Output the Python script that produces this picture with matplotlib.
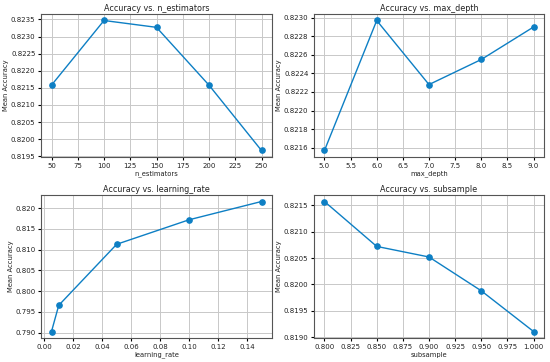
import matplotlib
matplotlib.use("Agg")
import matplotlib.pyplot as plt
from matplotlib.ticker import MultipleLocator, FormatStrFormatter

n_estimators = [50, 100, 150, 200, 250]
acc_n_estimators = [0.82158, 0.82347, 0.82327, 0.82158, 0.81967]

max_depth = [5, 6, 7, 8, 9]
acc_max_depth = [0.82157, 0.82297, 0.82228, 0.82255, 0.82290]

learning_rate = [0.005, 0.01, 0.05, 0.1, 0.15]
acc_learning_rate = [0.7903, 0.7966, 0.8113, 0.8172, 0.8216]

subsample = [0.8, 0.85, 0.9, 0.95, 1.0]
acc_subsample = [0.82157, 0.82072, 0.82052, 0.81988, 0.81911]

panels = [
    ("n_estimators", n_estimators, acc_n_estimators),
    ("max_depth", max_depth, acc_max_depth),
    ("learning_rate", learning_rate, acc_learning_rate),
    ("subsample", subsample, acc_subsample),
]

plt.rcParams['font.family'] = ['DejaVu Sans']
fig = plt.figure(figsize=(5.5, 3.62), dpi=100)
W, H = 550, 362
boxes = [(41, 14, 272, 157), (314, 14, 544, 157), (41, 195, 272, 338), (314, 195, 544, 338)]
color = '#0d7fc4'
axes = []
for (x0, y0, x1, y1), (name, x, y) in zip(boxes, panels):
    ax = fig.add_axes([x0 / W, 1 - y1 / H, (x1 - x0) / W, (y1 - y0) / H])
    axes.append(ax)
    ax.plot(x, y, marker='o', color=color, linewidth=1.0, markersize=3.8)
    ax.set_title(f"Accuracy vs. {name}", fontsize=5.8, pad=2.5, color='#222222')
    ax.set_xlabel(name, fontsize=4.9, labelpad=1.5, color='#222222')
    ax.set_ylabel("Mean Accuracy", fontsize=4.9, labelpad=1, color='#222222')
    ax.tick_params(labelsize=5, length=2.5, pad=1.5, labelcolor='#222222')
    ax.grid(True, color='#c8c8c8', linewidth=0.7)
    for s in ax.spines.values():
        s.set_linewidth(0.8)
        s.set_color('#555555')

axes[0].yaxis.set_major_locator(MultipleLocator(0.0005))
axes[0].yaxis.set_major_formatter(FormatStrFormatter('%.4f'))
axes[2].set_xticks([0.00, 0.02, 0.04, 0.06, 0.08, 0.10, 0.12, 0.14])
fig.savefig("out.png", dpi=100)
